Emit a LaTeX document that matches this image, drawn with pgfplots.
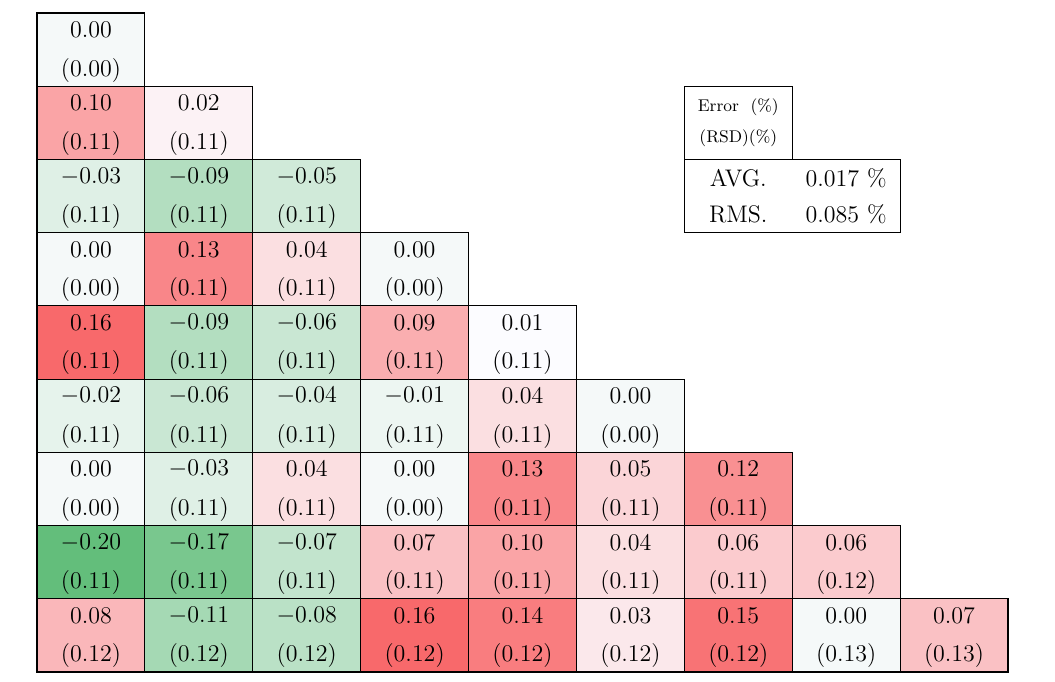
\documentclass[border=0pt]{standalone}
\usepackage{pgfplots}
\usepackage{pgfplotstable}
\pgfplotsset{compat=1.18}
\pgfdeclareplotmark{cellfill}{%
  \pgfpathrectangle{\pgfpoint{-26.972pt}{-18.306pt}}{\pgfpoint{53.944pt}{36.611pt}}%
  \pgfusepathqfill}
\pgfdeclareplotmark{cellline}{%
  \pgfpathrectangle{\pgfpoint{-26.972pt}{-18.306pt}}{\pgfpoint{53.944pt}{36.611pt}}%
  \pgfusepathqstroke}
\pgfplotstableread{
x y e r
0.5 8.5 0.00 0.00
0.5 7.5 0.10 0.11
1.5 7.5 0.02 0.11
0.5 6.5 -0.03 0.11
1.5 6.5 -0.09 0.11
2.5 6.5 -0.05 0.11
0.5 5.5 0.00 0.00
1.5 5.5 0.13 0.11
2.5 5.5 0.04 0.11
3.5 5.5 0.00 0.00
0.5 4.5 0.16 0.11
1.5 4.5 -0.09 0.11
2.5 4.5 -0.06 0.11
3.5 4.5 0.09 0.11
4.5 4.5 0.01 0.11
0.5 3.5 -0.02 0.11
1.5 3.5 -0.06 0.11
2.5 3.5 -0.04 0.11
3.5 3.5 -0.01 0.11
4.5 3.5 0.04 0.11
5.5 3.5 0.00 0.00
0.5 2.5 0.00 0.00
1.5 2.5 -0.03 0.11
2.5 2.5 0.04 0.11
3.5 2.5 0.00 0.00
4.5 2.5 0.13 0.11
5.5 2.5 0.05 0.11
6.5 2.5 0.12 0.11
0.5 1.5 -0.20 0.11
1.5 1.5 -0.17 0.11
2.5 1.5 -0.07 0.11
3.5 1.5 0.07 0.11
4.5 1.5 0.10 0.11
5.5 1.5 0.04 0.11
6.5 1.5 0.06 0.11
7.5 1.5 0.06 0.12
0.5 0.5 0.08 0.12
1.5 0.5 -0.11 0.12
2.5 0.5 -0.08 0.12
3.5 0.5 0.16 0.12
4.5 0.5 0.14 0.12
5.5 0.5 0.03 0.12
6.5 0.5 0.15 0.12
7.5 0.5 0.00 0.13
8.5 0.5 0.07 0.13
}\data
\begin{document}
\begin{tikzpicture}
\useasboundingbox (0,0) rectangle (527.5pt,340.5pt);
\begin{axis}[
  at={(18.5pt,4.5pt)}, anchor=south west,
  width=485.5pt, height=329.5pt, scale only axis,
  xmin=0, xmax=9, ymin=0, ymax=9,
  hide axis, clip=false,
  colormap={excel}{rgb255(0cm)=(99,190,123) rgb255(21cm)=(252,252,255) rgb255(36cm)=(248,105,107)},
  point meta min=-0.20, point meta max=0.16,
]
\addplot[scatter, only marks, mark=cellfill,
  scatter/use mapped color={draw=none, fill=mapped color},
  point meta=explicit] table[x=x, y=y, meta=e] {\data};
\addplot[only marks, mark=cellline, line width=0.55pt, draw=black,
  mark options={draw=black, fill=none}] table[x=x, y=y] {\data};
\addplot[only marks, mark=none, point meta=explicit,
  nodes near coords={\pgfmathprintnumber[fixed,fixed zerofill,precision=2]{\pgfplotspointmeta}},
  every node near coord/.append style={anchor=center, yshift=0pt, font=\fontsize{12}{14}\selectfont, text=black}]
  table[x=x, y expr=\thisrow{y}+0.27, meta=e] {\data};
\addplot[only marks, mark=none, point meta=explicit,
  nodes near coords={(\pgfmathprintnumber[fixed,fixed zerofill,precision=2]{\pgfplotspointmeta})},
  every node near coord/.append style={anchor=center, yshift=0pt, font=\fontsize{12}{14}\selectfont, text=black}]
  table[x=x, y expr=\thisrow{y}-0.28, meta=r] {\data};
\draw[line width=0.55pt] (axis cs:6,7) rectangle (axis cs:7,8);
\draw[line width=0.55pt] (axis cs:6,6) rectangle (axis cs:8,7);
\node[font=\fontsize{8.5}{10}\selectfont] at (axis cs:6.5,7.71) {Error\ \ (\%)};
\node[font=\fontsize{8.5}{10}\selectfont] at (axis cs:6.5,7.29) {(RSD)(\%)};
\node[font=\fontsize{12}{14}\selectfont] at (axis cs:6.5,6.75) {AVG.};
\node[font=\fontsize{12}{14}\selectfont] at (axis cs:6.5,6.25) {RMS.};
\node[font=\fontsize{12}{14}\selectfont] at (axis cs:7.5,6.75) {0.017\ \%};
\node[font=\fontsize{12}{14}\selectfont] at (axis cs:7.5,6.25) {0.085\ \%};
\end{axis}
\end{tikzpicture}
\end{document}
